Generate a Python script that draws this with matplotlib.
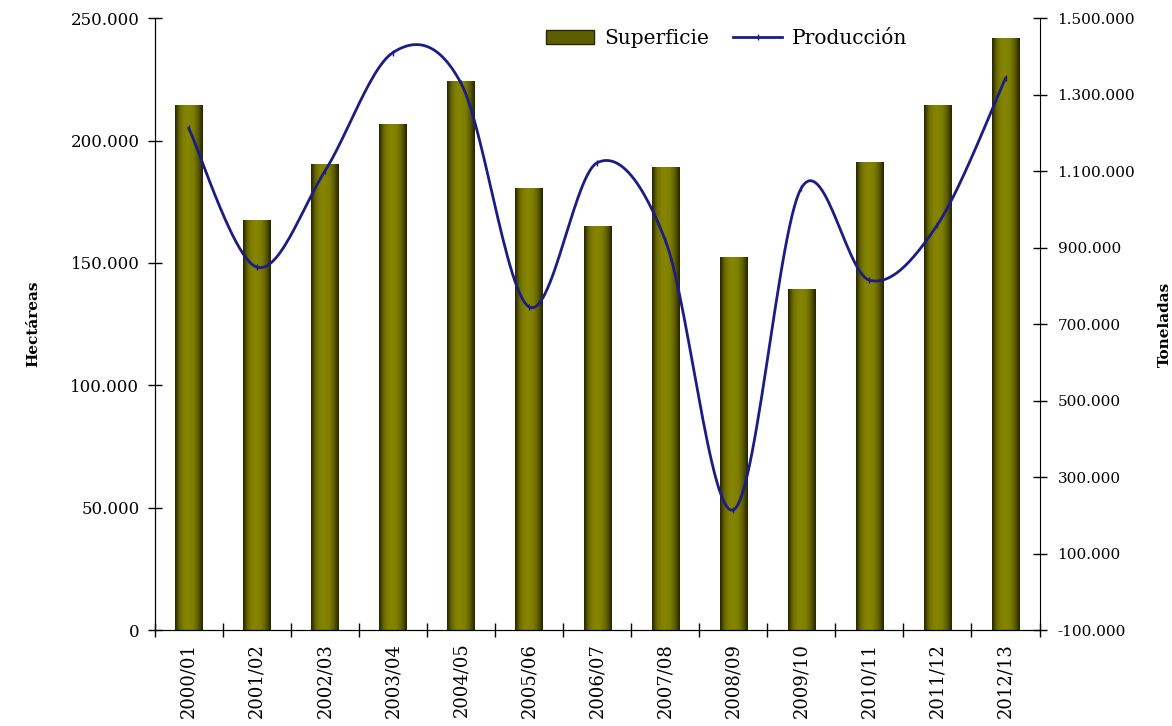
import numpy as np
import matplotlib.pyplot as plt
from matplotlib.colors import LinearSegmentedColormap
from matplotlib.lines import Line2D
from matplotlib.patches import Patch

campanas = ['2000/01', '2001/02', '2002/03', '2003/04', '2004/05', '2005/06', '2006/07',
            '2007/08', '2008/09', '2009/10', '2010/11', '2011/12', '2012/13']
superficie = [214500, 167500, 190400, 206700, 224300, 180600, 165000,
              189100, 152400, 139300, 191200, 214500, 241800]
produccion = [1212000, 849000, 1100000, 1410000, 1330000, 745000, 1122000,
              920000, 214000, 1056000, 815000, 960000, 1343000]
ticks_izq = [0, 50000, 100000, 150000, 200000, 250000]
ticks_der = [-100000, 100000, 300000, 500000, 700000, 900000, 1100000, 1300000, 1500000]


def miles(v):
    return f"{v:,.0f}".replace(',', '.')


def catmull_rom(x, y, n=30):
    # suavizado tipo Excel entre puntos consecutivos
    x = np.asarray(x, float)
    y = np.asarray(y, float)
    px = np.concatenate([[x[0]], x, [x[-1]]])
    py = np.concatenate([[y[0]], y, [y[-1]]])
    xs, ys = [], []
    t = np.linspace(0, 1, n)
    for i in range(1, len(px) - 2):
        for p, out in ((px, xs), (py, ys)):
            p0, p1, p2, p3 = p[i - 1], p[i], p[i + 1], p[i + 2]
            out.extend(0.5 * (2 * p1 + (-p0 + p2) * t + (2 * p0 - 5 * p1 + 4 * p2 - p3) * t**2
                              + (-p0 + 3 * p1 - 3 * p2 + p3) * t**3))
    return np.array(xs), np.array(ys)


plt.rcParams['font.family'] = ['DejaVu Serif']

fig = plt.figure(figsize=(11.72, 7.26), dpi=100)
ax = fig.add_axes([0.132, 0.132, 0.755, 0.843])
x = np.arange(len(campanas))

cmap = LinearSegmentedColormap.from_list(
    'oliva', ['#262600', '#6a6a00', '#828200', '#858500', '#7c7c00', '#5c5c00', '#242400'])
grad = np.linspace(0, 1, 64).reshape(1, -1)
barras = ax.bar(x, superficie, width=0.4, color='#7a7a00', zorder=2)
for b in barras:
    im = ax.imshow(grad, cmap=cmap, aspect='auto', zorder=2.5,
                   extent=[b.get_x(), b.get_x() + b.get_width(), 0, b.get_height()])
    im.set_clip_path(b)

ax.set_xlim(-0.5, len(campanas) - 0.5)
ax.set_ylim(0, 250000)
ax.set_yticks(ticks_izq)
ax.set_yticklabels([miles(v) for v in ticks_izq], fontsize=12)
ax.set_xticks(np.arange(len(campanas) + 1) - 0.5)
ax.set_xticklabels([])
ax.set_xticks(x, minor=True)
ax.set_xticklabels(campanas, minor=True, rotation=90, fontsize=13)
ax.tick_params(axis='x', which='minor', length=0, pad=9)
ax.tick_params(axis='x', which='major', direction='inout', length=10, width=1)
ax.tick_params(axis='y', direction='inout', length=10, width=1, pad=6)
ax.spines['top'].set_visible(False)
ax.spines['right'].set_visible(False)
ax.set_ylabel('Hectáreas', fontsize=11, fontweight='bold', labelpad=22)

ax2 = ax.twinx()
xs, ys = catmull_rom(x, produccion)
ax2.plot(xs, ys, color='#1c1c85', linewidth=2, zorder=3)
ax2.plot(x, produccion, linestyle='none', marker='|', markersize=4, color='#1c1c85')
ax2.set_ylim(-100000, 1500000)
ax2.set_yticks(ticks_der)
ax2.set_yticklabels([miles(v) for v in ticks_der], fontsize=11)
ax2.tick_params(axis='y', direction='inout', length=10, width=1, pad=8)
ax2.spines['top'].set_visible(False)
ax2.set_ylabel('Toneladas', fontsize=11, fontweight='bold', labelpad=16)

handles = [Patch(facecolor='#5e5e00', edgecolor='#262600'),
           Line2D([0], [0], color='#1c1c85', linewidth=2, marker='|', markersize=5)]
fig.legend(handles, ['Superficie', 'Producción'], loc='upper center', ncol=2,
           bbox_to_anchor=(0.62, 0.985), frameon=False, fontsize=14.5,
           handlelength=2.4, columnspacing=1.2, handletextpad=0.5)

fig.savefig('out.png', dpi=100)
